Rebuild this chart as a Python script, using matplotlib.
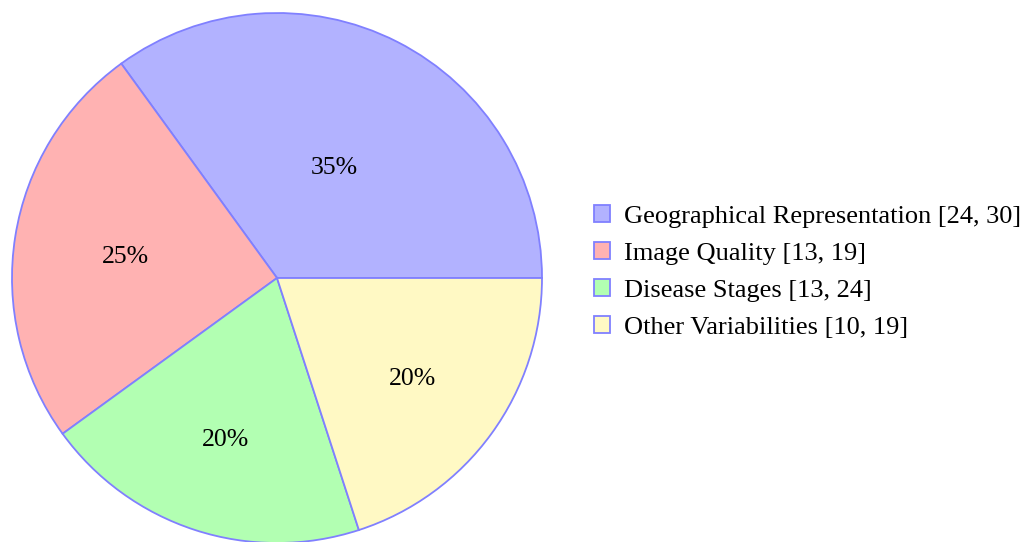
import matplotlib
matplotlib.use("Agg")
import matplotlib.pyplot as plt
from matplotlib.patches import Patch
import numpy as np

labels = ["Geographical Representation [24, 30]", "Image Quality [13, 19]",
          "Disease Stages [13, 24]", "Other Variabilities [10, 19]"]
values = [35, 25, 20, 20]
colors = ["#b2b2ff", "#ffb2b2", "#b2ffb2", "#fff9c4"]
edge = "#8080ff"
pct_dist = [0.48, 0.58, 0.63, 0.63]

plt.rcParams['font.family'] = ['Liberation Serif', 'DejaVu Serif']

fig = plt.figure(figsize=(10.25, 5.42), dpi=100)
ax = fig.add_axes([12/1025, (542-278-265)/542, 530/1025, 530/542])
wedges, _ = ax.pie(values, colors=colors, startangle=0, counterclock=True,
                   wedgeprops=dict(edgecolor=edge, linewidth=1.3), radius=1)
for w, v, d in zip(wedges, values, pct_dist):
    ang = np.deg2rad((w.theta1 + w.theta2) / 2)
    ax.text(d*np.cos(ang), d*np.sin(ang) - 0.012, f"{v}%", ha='center', va='center', fontsize=18.5)
ax.set_xlim(-1.0, 1.0)
ax.set_ylim(-1.0, 1.0)
ax.set_aspect('equal')
ax.axis('off')

handles = [Patch(facecolor=c, edgecolor=edge, linewidth=1.3) for c in colors]
fig.legend(handles, labels, loc='center left', bbox_to_anchor=(0.5795, 0.4985),
           frameon=False, fontsize=19, handlelength=0.62, handleheight=0.62,
           handletextpad=0.5, labelspacing=0.54, borderpad=0, borderaxespad=0)
fig.savefig("out.png", dpi=100)
